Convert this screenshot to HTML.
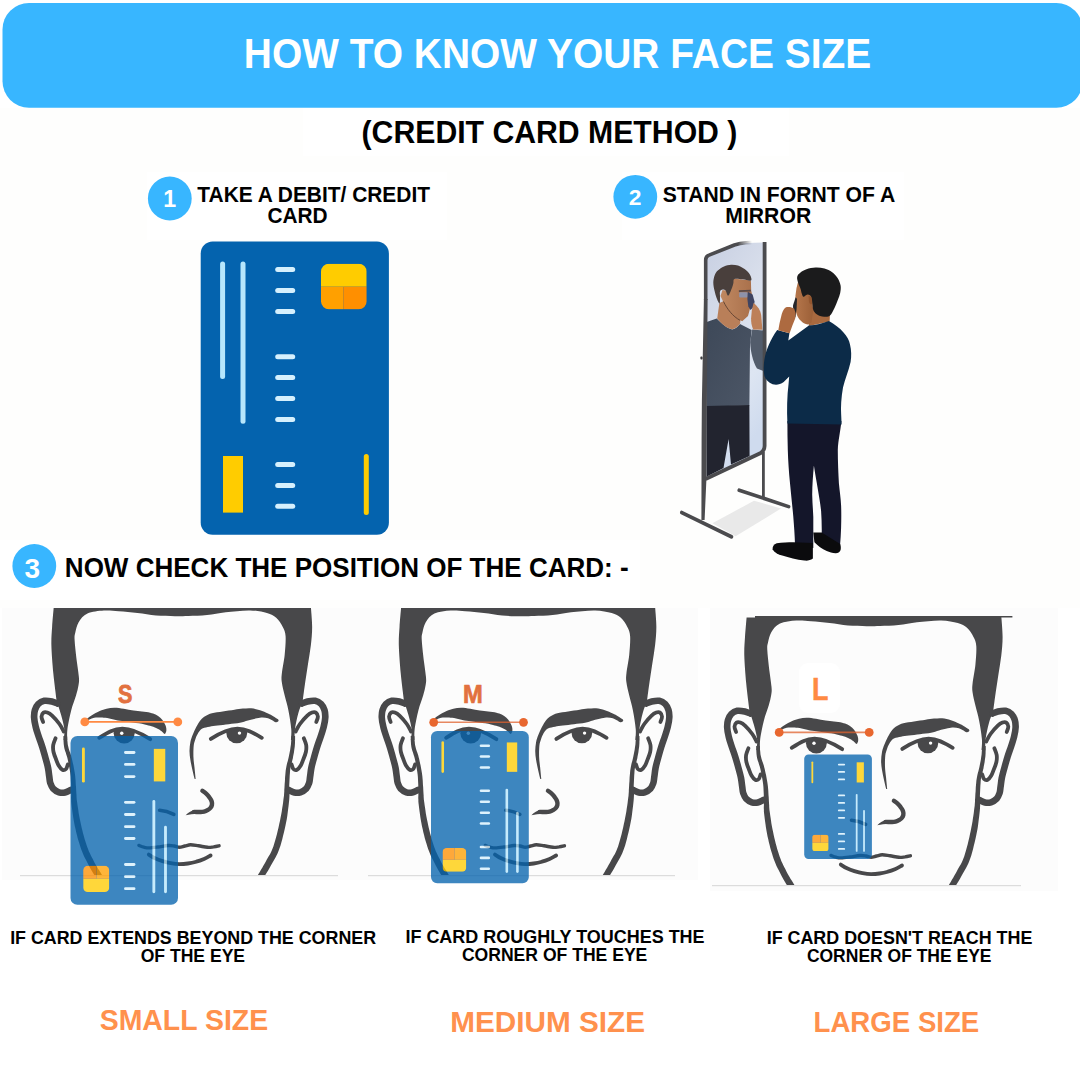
<!DOCTYPE html>
<html lang="en">
<head>
<meta charset="utf-8">
<title>How to know your face size</title>
<style>
html,body{margin:0;padding:0;background:#fff;}
body{width:1080px;height:1080px;position:relative;overflow:hidden;font-family:"Liberation Sans",sans-serif;}
svg{position:absolute;left:0;top:0;width:1080px;height:1080px;display:block;}
text{font-family:"Liberation Sans",sans-serif;font-weight:700;}
.k{fill:#000;}
.w{fill:#fff;}
.o{fill:#ff914d;}
</style>
</head>
<body>
<svg viewBox="0 0 1080 1080" width="1080" height="1080">
<!-- subtle paper background patches -->
<rect x="0" y="108" width="1080" height="500" fill="#fefefd"/>
<rect x="303" y="108" width="486" height="48" fill="#ffffff"/>
<rect x="147" y="172" width="300" height="68" fill="#ffffff"/>
<rect x="622" y="172" width="282" height="68" fill="#ffffff"/>
<rect x="0" y="540" width="640" height="60" fill="#ffffff"/>
<!-- header -->
<rect x="2.5" y="3" width="1080.3" height="104.7" rx="26.5" ry="26.5" fill="#38b6ff"/>
<text class="w" x="243.81" y="68.2" font-size="42.0" textLength="627.44" lengthAdjust="spacingAndGlyphs">HOW TO KNOW YOUR FACE SIZE</text>
<text class="k" x="361.56" y="142.5" font-size="30.8" textLength="375.84" lengthAdjust="spacingAndGlyphs">(CREDIT CARD METHOD )</text>
<text class="k" x="197.32" y="201.7" font-size="21.8" textLength="232.66" lengthAdjust="spacingAndGlyphs">TAKE A DEBIT/ CREDIT</text>
<text class="k" x="267.38" y="223.0" font-size="21.5" textLength="60.17" lengthAdjust="spacingAndGlyphs">CARD</text>
<text class="k" x="662.76" y="201.7" font-size="21.8" textLength="232.39" lengthAdjust="spacingAndGlyphs">STAND IN FORNT OF A</text>
<text class="k" x="725.26" y="223.0" font-size="21.5" textLength="85.95" lengthAdjust="spacingAndGlyphs">MIRROR</text>
<text class="k" x="64.85" y="576.8" font-size="27.0" textLength="563.76" lengthAdjust="spacingAndGlyphs">NOW CHECK THE POSITION OF THE CARD: -</text>
<text class="k" x="10.13" y="943.8" font-size="18.2" textLength="365.95" lengthAdjust="spacingAndGlyphs">IF CARD EXTENDS BEYOND THE CORNER</text>
<text class="k" x="140.71" y="961.7" font-size="18.0" textLength="104.37" lengthAdjust="spacingAndGlyphs">OF THE EYE</text>
<text class="k" x="405.45" y="942.8" font-size="18.0" textLength="299.13" lengthAdjust="spacingAndGlyphs">IF CARD ROUGHLY TOUCHES THE</text>
<text class="k" x="461.89" y="960.8" font-size="18.0" textLength="185.47" lengthAdjust="spacingAndGlyphs">CORNER OF THE EYE</text>
<text class="k" x="766.66" y="943.8" font-size="18.2" textLength="265.68" lengthAdjust="spacingAndGlyphs">IF CARD DOESN'T REACH THE</text>
<text class="k" x="806.90" y="961.7" font-size="18.0" textLength="184.64" lengthAdjust="spacingAndGlyphs">CORNER OF THE EYE</text>
<text class="o" x="99.69" y="1030.0" font-size="29.7" textLength="168.44" lengthAdjust="spacingAndGlyphs">SMALL SIZE</text>
<text class="o" x="450.19" y="1031.8" font-size="29.8" textLength="194.77" lengthAdjust="spacingAndGlyphs">MEDIUM SIZE</text>
<text class="o" x="813.57" y="1031.8" font-size="29.8" textLength="165.69" lengthAdjust="spacingAndGlyphs">LARGE SIZE</text>
<circle cx="169.8" cy="198.5" r="21.9" fill="#38b6ff"/>
<text class="w" x="169.6" y="207" font-size="23.2" text-anchor="middle">1</text>
<circle cx="635.3" cy="196.8" r="21.9" fill="#38b6ff"/>
<text class="w" x="635.1" y="205" font-size="22.8" text-anchor="middle">2</text>
<circle cx="34.3" cy="566" r="21.9" fill="#38b6ff"/>
<text class="w" x="32.2" y="577.5" font-size="28" text-anchor="middle">3</text>
<!-- main credit card -->
<g id="maincard">
<rect x="200.7" y="241.5" width="188.2" height="293.3" rx="12" fill="#0463ae"/>
<rect x="220.1" y="261.5" width="5" height="117.5" rx="2.5" fill="#b6e6fc"/>
<rect x="240.5" y="261.5" width="5" height="162.2" rx="2.5" fill="#b6e6fc"/>
<g fill="#d6f0fd">
<rect x="275.2" y="267.1" width="20" height="5" rx="2.5"/>
<rect x="275.2" y="287.9" width="20" height="5" rx="2.5"/>
<rect x="275.2" y="309" width="20" height="5" rx="2.5"/>
<rect x="275.2" y="354.2" width="20" height="5" rx="2.5"/>
<rect x="275.2" y="374.9" width="20" height="5" rx="2.5"/>
<rect x="275.2" y="396" width="20" height="5" rx="2.5"/>
<rect x="275.2" y="417.1" width="20" height="5" rx="2.5"/>
<rect x="275.2" y="461.9" width="20" height="5" rx="2.5"/>
<rect x="275.2" y="483.1" width="20" height="5" rx="2.5"/>
<rect x="275.2" y="503.8" width="20" height="5" rx="2.5"/>
</g>
<clipPath id="chipclip"><rect x="321" y="263.7" width="45.7" height="45.6" rx="8"/></clipPath>
<g clip-path="url(#chipclip)">
<rect x="321" y="263.7" width="45.7" height="23" fill="#ffcc00"/>
<rect x="321" y="286.7" width="22.3" height="23" fill="#ffa000"/>
<rect x="343.3" y="286.7" width="23.5" height="23" fill="#ff8f00"/>
</g>
<rect x="223" y="456" width="20" height="56.6" fill="#ffcc00"/>
<rect x="363.8" y="454" width="5" height="61" rx="2.5" fill="#ffcc00"/>
</g>
<g id="mirrorscene">
<defs>
<linearGradient id="glass" x1="0" y1="0" x2="0.35" y2="1"><stop offset="0" stop-color="#c7cfe2"/><stop offset="0.4" stop-color="#d8deeb"/><stop offset="0.75" stop-color="#dde5f2"/><stop offset="1" stop-color="#cfdbee"/></linearGradient>
<linearGradient id="rsw" x1="0" y1="0" x2="1" y2="1"><stop offset="0" stop-color="#3d4858"/><stop offset="1" stop-color="#4c5666"/></linearGradient>
<linearGradient id="skin1" x1="0" y1="0" x2="1" y2="0"><stop offset="0" stop-color="#c08861"/><stop offset="1" stop-color="#a9704b"/></linearGradient>
<linearGradient id="skin2" x1="0" y1="0" x2="1" y2="0"><stop offset="0" stop-color="#b5764b"/><stop offset="1" stop-color="#9c6038"/></linearGradient>
<clipPath id="glassclip"><path d="M706.5 259.5 Q706.6 256.8 709 255.8 L738 245.2 Q742 243.6 747 243 L763.5 242.4 L763.5 446 Q763.3 450.6 759.5 452.6 L706.5 477.5 Z"/></clipPath>
</defs>
<polygon points="712.4,523.3 754,500.7 781,508.5 735.6,536.3" fill="#e9e9e9"/>
<path d="M706.5 259.5 Q706.6 256.8 709 255.8 L738 245.2 Q742 243.6 747 243 L763.5 242.4 L763.5 446 Q763.3 450.6 759.5 452.6 L706.5 477.5 Z" fill="url(#glass)"/>
<g clip-path="url(#glassclip)">
<path d="M704 323 L716.7 318.6 C722 324 727 328.5 732.2 329.4 C735.5 328.6 738 326.4 740 323.9 L751.7 330 L750 345 L749.4 405.5 L704 406.5 Z" fill="url(#rsw)"/>
<path d="M752.2 329.6 L763.2 330.6 L766 372 L757 368.5 C753 362 750.5 352 750.2 342 Z" fill="#525c6b"/>
<path d="M704 406 L749.4 405 L749.6 456 L731 464.6 L728.6 439 L723.5 468 L704 478 Z" fill="#22242f"/>
<path d="M719.4 303 L717.2 318.4 C722 324 727 328.3 732.2 329.2 C735.5 328.4 738 326.2 740 323.7 L741 316 L726 300 Z" fill="#b97f59"/>
<path d="M733.5 278.5 L750.9 280.6 L751.2 290.6 L752.6 297.4 L750.5 300.5 L750.2 308 L748 316 L742.2 321.2 C736 318.5 729 311 724.5 304.5 L720.5 296 L722.5 290 L728.5 291 Z" fill="url(#skin1)"/>
<path d="M723.5 301.5 C727 309 733 316.5 740 320.3" fill="none" stroke="#5d3f30" stroke-width="0.9"/>
<path d="M713.3 282.8C713.3 280.2 713.9 277.5 714.6 275.5C715.4 273.5 716.2 272.1 717.8 270.6C719.4 269.1 721.8 267.5 724.0 266.5C726.2 265.5 728.8 264.9 731.1 264.8C733.4 264.7 736.0 265.0 738.0 265.6C740.0 266.2 741.6 267.2 743.3 268.3C745.0 269.4 746.8 270.7 748.0 272.0C749.2 273.3 750.1 274.7 750.6 276.1C751.1 277.5 752.2 280.1 750.9 280.6C749.5 281.1 745.2 279.5 742.5 279.2C739.8 278.9 735.9 278.3 734.4 278.9C732.9 279.5 733.8 281.6 733.4 283.0C733.0 284.4 733.1 285.1 732.2 287.2C731.4 289.3 729.4 295.0 728.3 295.6C727.2 296.2 726.5 291.6 725.6 290.6C724.7 289.6 723.5 289.5 722.6 289.6C721.7 289.7 720.4 290.2 720.0 291.4C719.6 292.6 720.1 295.0 720.0 297.0C719.9 299.0 720.2 303.3 719.6 303.5C719.0 303.7 717.4 300.1 716.6 298.0C715.8 295.9 715.2 293.5 714.6 291.0C714.0 288.5 713.3 285.4 713.3 282.8Z" fill="#493f3c"/>
<path d="M738.9 290.2 L750.8 289.8 L750.8 291.6 L738.9 292 Z" fill="#5a4a48"/>
<rect x="739.2" y="292.2" width="8.6" height="5.2" rx="1.2" fill="#8e92aa"/>
<path d="M747.8 291.7 L752.6 294.5 L754.6 301.7 L753.5 307 L750.6 310 L748.3 306.5 L747.4 299 Z" fill="#3e4462"/>
<path d="M753.6 302.8 C757.5 306 760.5 310.5 761.2 315 L762.4 329.8 L753.2 329.6 C751.6 326 750.9 322 751.1 318.3 L751.8 310.6 Z" fill="#bd8059"/>
</g>
<linearGradient id="fade" gradientUnits="userSpaceOnUse" x1="738" y1="0" x2="752" y2="0"><stop offset="0" stop-color="#4b4b4e"/><stop offset="1" stop-color="#4b4b4e" stop-opacity="0"/></linearGradient>
<path d="M705.7 300 L705.7 260 Q705.7 256.3 709 255.1 L734.4 245 Q740 243.2 746 242.8 L752 242.6" fill="none" stroke="url(#fade)" stroke-width="3.6" stroke-linejoin="round"/>
<path d="M703.9 299 L707.6 299 L706.9 400 L706.4 479.5 L704.6 520 L701.4 520 L701.6 440 L701.9 400 Z" fill="#4b4b4e"/>
<path d="M764.6 241.9 L764.6 446 Q764.4 451 760.2 453.2 L705.6 479" fill="none" stroke="#4b4b4e" stroke-width="3.8" stroke-linejoin="round"/>
<path d="M763.4 452 L763.4 497" fill="none" stroke="#4b4b4e" stroke-width="2.8"/>
<path d="M739.2 490.2 L788.6 506.6" fill="none" stroke="#4b4b4e" stroke-width="3.6" stroke-linecap="round"/>
<path d="M681.8 512.6 L731.4 536.8" fill="none" stroke="#4b4b4e" stroke-width="3.8" stroke-linecap="round"/>
<path d="M787.4 421 L841.4 421 C840.4 432 838.2 440 837.8 450 C837.8 462 838.4 473 838.9 483.3 C839.6 491 840.8 498 841.1 505.6 C841.4 513 841.3 520 841.1 527.8 C840.9 534 840.5 540 840 546 L821.7 535 C821.9 527 821.6 519 821.1 511.1 C820.4 503.5 819 496 817.8 488.9 C816.4 481 815 473 813.9 465.6 C813 475 812.3 485 812.2 494.4 C812.3 502 813 509.5 813.3 516.7 L813.3 548 L795 545 C794.8 535.5 794 526 793.3 516.7 C792.3 505.5 791 494.5 790 483.3 C788.9 472 788.1 461 787.8 450 C787.5 440 787.4 430.5 787.4 421 Z" fill="#14162a"/>
<path d="M772.6 549.5 C772.4 546.5 774 544.3 776.7 543.3 C782 542.3 788 542.2 793.3 542.2 L812.9 543 L812.9 558.6 C810.5 560.4 807.5 560.9 804.4 560.6 C796.5 559.8 789 557.8 782.2 555.6 C778.5 554.4 774.8 553 772.6 549.5 Z" fill="#0b0b0d"/>
<path d="M813.3 532.6 L821.7 532.6 L840.2 544 C840.9 546 841 548.2 840.6 550 C839.6 552.4 837.8 553.4 835.6 553.3 C832.4 553.2 829.4 552.3 826.7 551.1 C822 548.8 817.8 545.8 814.4 542.2 Z" fill="#0b0b0d"/>
<path d="M806 305 L830 314 L829.6 321.5 L808.9 326 Z" fill="#a8693f"/>
<path d="M798 282 L803 289 L812.5 296 L813 312 L811.5 322.5 L807.8 324.6 C805 324.4 802.6 322.8 801.1 321.1 C798.5 318.5 796.8 315.5 796.1 312.2 L795.4 296 L796.5 288 Z" fill="url(#skin2)"/>
<path d="M808.6 296 C811 296 812.6 299 812.4 303.2 C811.5 305 810 304.5 809 302 Z" fill="#93562f"/>
<path d="M797.2 276.7C797.6 274.9 799.0 273.7 800.5 272.5C802.0 271.3 804.0 270.1 806.5 269.3C809.0 268.5 812.6 267.7 815.6 267.6C818.6 267.5 821.7 267.8 824.5 268.6C827.3 269.4 830.0 270.6 832.2 272.2C834.4 273.8 836.2 275.8 837.6 278.0C839.0 280.2 840.2 283.1 840.6 285.6C841.0 288.1 840.7 290.6 840.2 293.0C839.7 295.4 838.8 297.5 837.8 300.0C836.8 302.5 835.8 305.4 834.5 308.0C833.2 310.6 831.6 314.1 830.0 315.6C828.4 317.1 826.7 316.7 825.0 316.8C823.3 316.9 821.5 316.6 820.0 316.1C818.5 315.6 817.1 314.8 816.0 313.8C814.9 312.8 813.9 311.6 813.3 310.0C812.7 308.4 812.7 306.0 812.4 304.0C812.1 302.0 812.1 299.3 811.7 297.8C811.3 296.3 810.6 295.8 810.0 295.2C809.4 294.6 808.5 294.4 807.8 294.4C807.1 294.4 806.4 295.0 805.6 295.4C804.9 295.8 804.0 297.1 803.3 296.7C802.6 296.3 802.0 294.3 801.6 293.0C801.2 291.7 801.2 290.6 800.6 288.9C800.0 287.2 798.8 285.0 798.2 283.0C797.6 281.0 796.8 278.4 797.2 276.7Z" fill="#1b1b1c"/>
<path d="M808.9 325.6 C816 325.2 823 323.4 828.9 321.1 C834.5 324.2 839.5 328 843.3 332.2 C847 336 849.2 340 850 344.4 C851.4 350 851.6 356 850.6 362 C848.5 371 845 379.5 843 387.4 C841.3 397 840.6 407 841.2 415.2 L841.6 424.4 L787.4 423.6 C786.8 410 787 396 788.6 383.5 L789.2 376.5 L783.7 382 C780 384.8 776 385.2 772.6 384.2 C768.5 382.6 765.5 379.5 764.4 376 C763.3 370.5 763.6 365 764.4 359.6 C766 350 770.5 339.5 777.2 330 L789.4 333.3 L788.3 340.6 Z" fill="#0c2b48"/>
<path d="M795.6 297.2 L797 298.8 L796.6 309 L795.4 317.4 L793.6 316.6 L793 305.6 Z" fill="#26262a"/>
<path d="M785.6 307.4 C788.5 306.6 792 307.2 794.2 308.8 L795.6 313 L795.2 318.5 L792.4 325.5 L789.6 333.2 L778.3 330.2 C779 325.5 780 321 781.1 316.7 C782 312.5 783.3 309 785.6 307.4 Z" fill="#ad6a40"/>
<rect x="700.4" y="356.6" width="2.2" height="3" rx="0.8" fill="#3e3e40"/>
</g>
<defs>
<g id="face">
<path d="M746.6 617.4C748.0 617.4 753.6 617.4 755.0 617.4L755.0 616.0C796.0 616.0 960.2 616.0 1001.3 616.0L1001.3 616.0C1001.5 619.5 1002.6 630.4 1002.6 637.0C1002.6 643.6 1002.0 649.4 1001.3 655.6C1000.6 661.8 999.4 667.8 998.5 674.0C997.6 680.2 996.6 686.5 995.7 692.6C994.8 698.7 993.7 707.6 993.3 710.6L993.3 710.6C992.6 712.7 990.2 718.6 988.9 723.3C987.6 728.0 986.2 734.4 985.6 738.9C985.0 743.4 985.3 748.1 985.3 750.0L981.6 750.0C981.6 748.1 982.3 743.8 981.9 738.9C981.5 734.0 980.2 725.9 979.1 720.4C978.0 714.9 976.5 710.2 975.4 705.6C974.3 701.0 973.1 696.3 972.6 692.6C972.1 688.9 972.1 687.9 972.6 683.3C973.1 678.7 974.8 671.0 975.4 664.8C976.0 658.6 976.6 650.9 976.3 646.3C976.0 641.7 975.0 640.1 973.5 637.0C972.0 633.9 969.6 630.1 967.0 627.8C964.4 625.5 962.1 624.3 957.8 623.1C953.5 621.9 947.9 620.5 941.1 620.4C934.3 620.2 924.1 621.4 917.0 622.2C909.9 623.0 904.7 624.4 898.5 625.0C892.3 625.6 885.3 625.8 880.0 626.0C874.7 626.2 872.0 626.4 866.7 626.3C861.4 626.2 854.2 626.1 848.0 625.6C841.8 625.1 835.8 623.8 829.6 623.1C823.4 622.4 816.5 621.7 811.0 621.3C805.5 620.9 801.5 620.2 796.3 620.6C791.1 621.0 784.2 621.6 780.0 623.5C775.8 625.4 773.3 629.0 771.3 632.2C769.3 635.5 768.6 640.0 767.9 643.0C767.2 646.0 767.1 646.0 767.3 650.0C767.5 654.0 768.2 660.6 768.9 666.7C769.6 672.8 771.1 682.0 771.5 686.7C771.9 691.4 771.7 691.9 771.2 695.0C770.7 698.1 769.9 701.4 768.7 705.6C767.5 709.8 765.3 714.9 763.9 720.4C762.5 725.9 760.9 734.0 760.2 738.9C759.6 743.8 760.0 748.1 760.0 750.0L756.3 750.0C756.4 748.3 757.5 743.9 757.2 740.0C756.9 736.1 755.7 731.6 754.4 726.7C753.1 721.8 750.2 713.3 749.4 710.6L749.4 710.6C748.9 706.0 747.1 692.5 746.2 683.3C745.4 674.1 744.5 663.3 744.3 655.6C744.1 647.9 744.6 643.4 745.0 637.0C745.4 630.6 746.3 620.7 746.6 617.4Z" fill="#48484a"/>
<rect x="1000" y="616" width="12.4" height="1.5" fill="#48484a"/>
<path d="M756.2 746.1L756.2 746.9L756.3 748.0L756.3 749.3L756.3 750.8L756.4 752.3L756.5 753.9L756.7 755.5L756.9 757.1L757.2 758.5L757.6 759.9L758.0 761.2L758.5 762.5L758.9 763.9L759.3 765.2L759.8 766.7L760.2 768.3L760.6 770.1L761.0 772.0L761.4 774.1L761.8 776.2L762.2 778.3L762.6 780.5L762.9 782.6L763.2 784.7L763.4 786.7L763.5 788.8L763.6 791.0L763.7 793.1L763.8 795.3L763.8 797.3L763.8 799.3L763.9 801.2L763.9 802.9L763.9 804.3L763.9 805.6L763.8 806.9L763.8 808.3L763.9 809.8L763.9 811.6L764.1 813.6L764.4 816.0L764.7 818.6L765.1 821.4L765.5 824.3L765.9 827.3L766.4 830.3L767.0 833.4L767.5 836.3L768.2 839.1L768.8 842.0L769.6 845.0L770.3 847.9L771.1 850.8L772.0 853.6L772.8 856.3L773.7 858.9L774.6 861.3L775.6 863.7L776.5 865.9L777.5 868.0L778.6 870.1L779.6 872.1L780.6 874.0L781.6 875.9L782.7 877.9L783.8 879.9L785.0 882.0L786.2 883.9L787.3 885.7L788.3 887.3L789.1 888.7L789.8 889.7L795.2 886.3L794.6 885.3L793.8 883.9L792.8 882.3L791.7 880.6L790.5 878.7L789.4 876.7L788.2 874.8L787.2 872.9L786.2 871.0L785.3 869.1L784.3 867.2L783.3 865.3L782.4 863.2L781.4 861.2L780.6 859.0L779.7 856.7L778.9 854.3L778.1 851.7L777.2 849.0L776.5 846.2L775.7 843.4L775.0 840.5L774.3 837.7L773.7 834.9L773.1 832.1L772.5 829.2L771.9 826.3L771.4 823.4L771.0 820.5L770.6 817.8L770.2 815.2L769.9 813.0L769.6 811.0L769.4 809.5L769.3 808.1L769.2 806.8L769.2 805.5L769.1 804.2L769.0 802.7L768.9 801.0L768.8 799.1L768.7 797.1L768.5 795.1L768.4 792.9L768.3 790.7L768.1 788.5L767.9 786.3L767.6 784.1L767.3 782.0L766.9 779.7L766.5 777.5L766.1 775.3L765.6 773.2L765.1 771.1L764.7 769.1L764.2 767.3L763.8 765.6L763.3 764.0L762.8 762.6L762.3 761.2L761.9 760.0L761.5 758.7L761.2 757.5L760.9 756.3L760.6 755.0L760.4 753.5L760.3 752.0L760.1 750.5L760.0 749.1L760.0 747.8L759.9 746.7L759.8 745.9Z" fill="#48484a"/>
<path d="M982.1 745.9L982.0 746.7L982.0 747.7L981.9 748.9L981.9 750.2L981.8 751.6L981.7 753.0L981.6 754.4L981.4 755.8L981.2 757.1L981.0 758.5L980.8 760.0L980.5 761.5L980.2 763.0L979.9 764.5L979.6 765.9L979.3 767.4L979.0 768.7L978.7 770.0L978.4 771.2L978.0 772.5L977.6 773.9L977.3 775.4L977.0 777.0L976.7 778.7L976.4 780.6L976.2 782.7L976.0 784.9L975.8 787.1L975.7 789.3L975.6 791.5L975.4 793.6L975.3 795.5L975.2 797.2L975.1 798.7L975.0 800.1L975.0 801.4L974.9 802.7L974.8 804.1L974.7 805.7L974.4 807.7L974.1 810.1L973.8 812.7L973.4 815.5L972.9 818.5L972.5 821.6L971.9 824.7L971.3 827.8L970.7 830.9L970.0 834.0L969.3 837.4L968.5 840.8L967.7 844.2L966.8 847.6L965.9 850.8L965.0 853.8L964.2 856.5L963.3 858.8L962.5 860.8L961.6 862.7L960.7 864.4L959.7 866.1L958.7 867.8L957.7 869.6L956.7 871.5L955.6 873.4L954.4 875.5L953.2 877.7L951.9 879.8L950.7 881.9L949.6 883.7L948.7 885.2L948.0 886.4L953.6 889.6L954.2 888.5L955.1 887.0L956.2 885.1L957.4 883.1L958.7 880.9L960.0 878.7L961.2 876.6L962.3 874.5L963.3 872.7L964.3 871.0L965.3 869.3L966.3 867.5L967.3 865.5L968.3 863.4L969.3 861.1L970.2 858.5L971.2 855.7L972.1 852.6L973.0 849.2L973.8 845.8L974.7 842.3L975.5 838.8L976.2 835.4L976.9 832.1L977.5 828.9L978.0 825.7L978.4 822.5L978.8 819.3L979.2 816.3L979.5 813.4L979.8 810.7L980.0 808.3L980.1 806.2L980.2 804.3L980.1 802.8L980.1 801.4L980.0 800.0L979.9 798.7L979.9 797.3L979.9 795.7L980.0 793.8L980.1 791.7L980.2 789.6L980.3 787.4L980.4 785.2L980.6 783.1L980.7 781.1L980.9 779.3L981.2 777.7L981.5 776.3L981.8 774.9L982.1 773.7L982.5 772.4L982.8 771.1L983.1 769.7L983.5 768.2L983.7 766.7L984.0 765.2L984.3 763.7L984.6 762.2L984.8 760.6L985.0 759.1L985.2 757.7L985.4 756.2L985.5 754.8L985.6 753.3L985.6 751.8L985.7 750.3L985.7 749.0L985.7 747.8L985.7 746.8L985.7 746.1Z" fill="#48484a"/>
<path d="M992.5 713.5C993.4 713.2 995.8 712.0 998.0 711.5C1000.2 711.0 1003.4 710.4 1005.6 710.8C1007.9 711.2 1010.0 712.5 1011.5 714.0C1013.0 715.5 1014.1 717.8 1014.8 720.0C1015.5 722.2 1015.7 724.7 1015.6 727.5C1015.5 730.3 1014.8 733.8 1014.0 737.0C1013.2 740.2 1012.2 743.2 1011.1 746.5C1010.0 749.8 1008.6 753.5 1007.5 757.0C1006.4 760.5 1005.4 764.3 1004.4 767.8C1003.4 771.3 1002.4 774.9 1001.8 778.0C1001.2 781.1 1001.0 784.0 1000.6 786.5C1000.2 789.0 1000.3 791.0 999.6 793.0C998.9 795.0 998.0 797.2 996.6 798.8C995.2 800.3 992.9 801.7 991.0 802.3C989.1 802.9 986.9 802.9 985.0 802.5C983.1 802.1 980.4 800.4 979.5 800.0" fill="none" stroke="#48484a" stroke-width="6.6" stroke-linecap="round" stroke-linejoin="round"/>
<path d="M986.3 741.5C987.0 740.2 988.6 736.6 990.5 734.0C992.4 731.4 995.8 727.5 997.8 725.6C999.8 723.7 1001.1 723.0 1002.5 722.5C1003.9 722.0 1005.3 721.9 1006.3 722.6C1007.3 723.3 1008.2 725.1 1008.3 726.7C1008.4 728.3 1007.0 731.1 1006.7 732.0" fill="none" stroke="#48484a" stroke-width="3.8" stroke-linecap="round" stroke-linejoin="round"/>
<path d="M994.4 748.3C994.8 749.4 996.4 752.7 996.7 755.0C997.0 757.3 996.9 759.7 996.4 762.0C995.9 764.3 994.9 766.8 994.0 769.0C993.1 771.2 992.4 773.7 991.3 775.5C990.2 777.3 988.8 779.2 987.6 779.8C986.4 780.4 984.9 779.9 984.0 779.0C983.1 778.1 982.5 775.2 982.2 774.4" fill="none" stroke="#48484a" stroke-width="3.8" stroke-linecap="round" stroke-linejoin="round"/>
<path d="M750.3 713.5C749.4 713.2 747.0 712.0 744.8 711.5C742.6 711.0 739.4 710.4 737.2 710.8C734.9 711.2 732.8 712.5 731.3 714.0C729.8 715.5 728.7 717.8 728.0 720.0C727.3 722.2 727.1 724.7 727.2 727.5C727.3 730.3 728.0 733.8 728.8 737.0C729.5 740.2 730.6 743.2 731.7 746.5C732.8 749.8 734.2 753.5 735.3 757.0C736.4 760.5 737.4 764.3 738.4 767.8C739.4 771.3 740.4 774.9 741.0 778.0C741.6 781.1 741.8 784.0 742.2 786.5C742.6 789.0 742.5 791.0 743.2 793.0C743.9 795.0 744.8 797.2 746.2 798.8C747.6 800.3 749.9 801.7 751.8 802.3C753.7 802.9 755.9 802.9 757.8 802.5C759.7 802.1 762.4 800.4 763.3 800.0" fill="none" stroke="#48484a" stroke-width="6.6" stroke-linecap="round" stroke-linejoin="round"/>
<path d="M756.5 741.5C755.8 740.2 754.2 736.6 752.3 734.0C750.4 731.4 747.0 727.5 745.0 725.6C743.0 723.7 741.7 723.0 740.3 722.5C738.9 722.0 737.5 721.9 736.5 722.6C735.5 723.3 734.6 725.1 734.5 726.7C734.4 728.3 735.8 731.1 736.1 732.0" fill="none" stroke="#48484a" stroke-width="3.8" stroke-linecap="round" stroke-linejoin="round"/>
<path d="M748.4 748.3C748.0 749.4 746.4 752.7 746.1 755.0C745.8 757.3 745.9 759.7 746.4 762.0C746.9 764.3 747.9 766.8 748.8 769.0C749.6 771.2 750.4 773.7 751.5 775.5C752.6 777.3 754.0 779.2 755.2 779.8C756.4 780.4 757.9 779.9 758.8 779.0C759.7 778.1 760.3 775.2 760.6 774.4" fill="none" stroke="#48484a" stroke-width="3.8" stroke-linecap="round" stroke-linejoin="round"/>
<path d="M968.8 729.2C968.0 728.7 965.6 727.1 964.0 726.2C962.4 725.3 961.1 724.6 958.9 723.6C956.7 722.6 953.8 721.2 951.0 720.3C948.2 719.4 945.0 718.6 942.2 718.3C939.4 718.0 936.8 718.4 934.0 718.6C931.2 718.9 928.9 719.3 925.6 719.8C922.3 720.3 917.7 721.0 914.0 721.6C910.3 722.2 906.1 722.6 903.3 723.3C900.5 724.0 898.9 724.9 897.0 726.0C895.1 727.1 893.7 728.2 892.2 730.0C890.7 731.8 889.1 734.6 887.8 737.0C886.5 739.4 885.4 741.9 884.4 744.4C883.4 746.9 882.5 749.2 882.0 752.0C881.5 754.8 881.1 758.0 881.1 761.0C881.1 764.0 881.5 766.8 882.0 770.0C882.5 773.2 883.3 776.8 884.0 780.0C884.7 783.2 885.8 787.5 886.2 789.0L887.2 789.0C887.0 787.0 886.4 780.7 886.0 777.0C885.6 773.3 885.1 770.3 885.0 766.7C884.9 763.1 885.0 758.6 885.3 755.6C885.6 752.6 886.4 750.9 887.0 749.0C887.6 747.1 888.1 745.8 888.9 744.4C889.6 743.0 890.6 741.5 891.5 740.5C892.4 739.5 892.8 738.9 894.4 738.3C896.0 737.7 898.6 737.2 901.0 736.8C903.4 736.3 905.7 736.0 908.9 735.6C912.1 735.2 916.3 734.7 920.0 734.2C923.7 733.7 927.9 733.4 931.1 732.8C934.3 732.2 936.2 731.1 939.0 730.4C941.8 729.6 945.4 728.8 947.8 728.3C950.2 727.8 951.6 727.6 953.5 727.6C955.4 727.6 957.3 727.9 958.9 728.3C960.5 728.7 961.7 729.6 963.0 730.2C964.3 730.9 965.5 732.0 966.5 732.2C967.5 732.4 968.3 731.9 968.8 731.6C969.3 731.3 969.3 730.4 969.4 730.2Z" fill="#48484a"/>
<path d="M777.5 730.5C778.6 729.7 781.5 727.1 784.0 725.5C786.5 723.9 789.7 722.2 792.2 721.1C794.7 720.0 796.6 719.3 799.0 718.8C801.4 718.2 803.9 717.8 806.7 717.8C809.5 717.8 812.9 718.3 816.0 718.8C819.1 719.3 822.6 720.1 825.6 720.6C828.6 721.1 831.2 721.2 834.0 721.6C836.8 722.0 840.0 722.3 842.2 722.8C844.5 723.3 845.8 723.8 847.5 724.6C849.2 725.4 850.9 726.6 852.2 727.8C853.6 729.0 854.7 730.5 855.6 732.0C856.5 733.5 857.4 735.3 857.8 736.7C858.2 738.1 858.3 739.4 858.2 740.5C858.1 741.6 857.4 743.1 857.2 743.6L856.2 743.9C855.8 743.5 854.5 742.0 853.5 741.2C852.5 740.4 851.7 739.7 850.0 738.9C848.3 738.1 845.7 737.0 843.5 736.3C841.3 735.5 839.8 735.0 836.7 734.4C833.6 733.8 828.7 733.1 825.0 732.6C821.3 732.1 817.6 731.6 814.4 731.1C811.2 730.6 808.8 730.0 806.0 729.4C803.2 728.8 800.1 728.1 797.8 727.8C795.5 727.5 793.9 727.5 792.0 727.5C790.1 727.5 788.4 727.4 786.7 727.8C785.0 728.1 783.5 728.9 782.0 729.6C780.5 730.3 778.2 731.4 777.5 731.8Z" fill="#48484a"/>
<clipPath id="eyeL"><path d="M790 749.5 C800 741 806 738.2 814.6 738.2 C824 738.2 832 741.5 844 750.5 L844 760 L790 760Z"/></clipPath>
<circle cx="816.4" cy="743.2" r="10.4" fill="#48484a" clip-path="url(#eyeL)"/>
<path d="M791.7 747.8 C800 742.5 806 738.6 814.6 738.6 C824 738.6 832 742.5 842.2 749.2" fill="none" stroke="#48484a" stroke-width="3.8" stroke-linecap="round"/>
<circle cx="814" cy="743.3" r="1.7" fill="#fff"/>
<clipPath id="eyeR"><path d="M900 750.5 C912 741.5 920 738.2 928.6 738.2 C937 738.2 944 741 954 749.5 L954 760 L900 760Z"/></clipPath>
<circle cx="927.9" cy="742.8" r="10.4" fill="#48484a" clip-path="url(#eyeR)"/>
<path d="M902.3 748.9 C912 742.5 920 738.6 928.6 738.6 C937 738.6 944 742.5 952.7 747.8" fill="none" stroke="#48484a" stroke-width="3.8" stroke-linecap="round"/>
<circle cx="930.6" cy="743.1" r="1.7" fill="#fff"/>
<path d="M893.9 800.8C894.6 801.3 896.8 802.8 898.0 804.0C899.2 805.2 900.2 806.5 901.1 807.8C902.0 809.0 902.7 810.3 903.1 811.5C903.5 812.7 903.5 813.9 903.3 815.0C903.1 816.1 902.5 817.1 901.8 818.0C901.1 818.9 899.9 819.6 898.9 820.2C897.9 820.8 896.6 821.3 895.5 821.6C894.4 821.9 893.9 822.0 892.2 822.0C890.6 822.0 886.7 821.9 885.6 821.9" fill="none" stroke="#48484a" stroke-width="4.4" stroke-linecap="round" stroke-linejoin="round"/>
<path d="M887 820 C883 820.3 880 822.5 877.3 825.3 C881 824.6 885 824 889 823.8Z" fill="#48484a"/>
<path d="M851.5 820.2 C856 820.5 861 822 865.6 824.4" fill="none" stroke="#48484a" stroke-width="3.6" stroke-linecap="round"/>
<path d="M831.0 855.4C831.8 855.7 834.3 856.8 836.0 857.2C837.7 857.6 838.8 857.9 841.1 857.9C843.4 857.9 846.9 857.4 850.0 857.0C853.1 856.6 857.3 855.7 860.0 855.5C862.7 855.3 864.1 855.7 866.0 856.0C867.9 856.3 869.4 857.2 871.1 857.2C872.9 857.2 874.6 856.4 876.5 856.0C878.4 855.6 880.0 854.8 882.2 854.8C884.5 854.8 887.2 855.4 890.0 855.8C892.8 856.2 896.4 857.1 898.9 857.3C901.4 857.5 903.1 857.1 905.0 856.9C906.9 856.6 909.5 856.0 910.4 855.8" fill="none" stroke="#48484a" stroke-width="3.4" stroke-linecap="round" stroke-linejoin="round"/>
<path d="M840.8 864.6C841.8 865.2 844.7 867.2 847.0 868.3C849.3 869.4 851.8 870.3 854.4 871.1C857.0 871.9 859.7 872.7 862.5 873.2C865.3 873.7 868.3 874.1 871.1 874.1C873.9 874.1 876.7 873.9 879.5 873.5C882.3 873.1 885.1 872.5 887.8 871.7C890.5 871.0 893.1 870.0 895.5 869.0C897.9 868.0 900.9 866.1 902.0 865.5" fill="none" stroke="#48484a" stroke-width="3.8" stroke-linecap="round" stroke-linejoin="round"/>
</g>
</defs>
<clipPath id="c3"><rect x="710" y="608" width="348" height="277.3"/></clipPath>
<rect x="710" y="608" width="348" height="283" fill="#fcfcfc"/>
<g clip-path="url(#c3)"><use href="#face"/></g>
<rect x="712" y="885" width="309" height="1.2" fill="#dcdcdc"/>
<clipPath id="c2"><rect x="368" y="608" width="330" height="267.3"/></clipPath>
<rect x="368" y="608" width="330" height="272" fill="#fcfcfc"/>
<g clip-path="url(#c2)"><use href="#face" transform="translate(-343.24 -10) scale(0.997 1)"/></g>
<rect x="368" y="875" width="307" height="1.2" fill="#dcdcdc"/>
<clipPath id="c1"><rect x="2" y="608" width="366" height="267.3"/></clipPath>
<rect x="2" y="608" width="366" height="272" fill="#fcfcfc"/>
<g clip-path="url(#c1)"><use href="#face" transform="translate(-699.98 -10) scale(1.0095 1)"/></g>
<rect x="20" y="875" width="318" height="1.2" fill="#dcdcdc"/>
<line x1="84.8" y1="721.9" x2="177.8" y2="721.9" stroke="#ff8a43" stroke-width="1.6" opacity="1"/><circle cx="84.8" cy="721.9" r="4.4" fill="#ff8a43"/><circle cx="177.8" cy="721.9" r="4.4" fill="#ff8a43"/>
<line x1="433.7" y1="722.3" x2="523.5" y2="722.3" stroke="#e0622e" stroke-width="1.6" opacity="0.75"/><circle cx="433.7" cy="722.3" r="4.4" fill="#e8672f"/><circle cx="523.5" cy="722.3" r="4.4" fill="#e8672f"/>
<line x1="779.2" y1="732.4" x2="869.2" y2="732.4" stroke="#e0622e" stroke-width="1.6" opacity="0.75"/><circle cx="779.2" cy="732.4" r="4.4" fill="#e8672f"/><circle cx="869.2" cy="732.4" r="4.4" fill="#e8672f"/>
<text x="118.0" y="702.9" font-size="25.2" fill="#e2713f" stroke="#e2713f" stroke-width="0.8" stroke-linejoin="round" textLength="14.4" lengthAdjust="spacingAndGlyphs">S</text>
<text x="462.9" y="702.9" font-size="25.2" fill="#e2713f" stroke="#e2713f" stroke-width="0.7" stroke-linejoin="round" textLength="19.8" lengthAdjust="spacingAndGlyphs">M</text>
<rect x="799" y="663" width="41" height="50" rx="9" fill="#ffffff"/>
<text x="812.0" y="700.2" font-size="30.5" fill="#ff8a43" stroke="#ff8a43" stroke-width="0.5" textLength="16.4" lengthAdjust="spacingAndGlyphs">L</text>
<g opacity="0.77" transform="translate(178.00 904.80) scale(-0.5712 -0.5752) translate(-200.7 -241.5)"><use href="#maincard"/></g>
<g opacity="0.77" transform="translate(528.80 883.30) scale(-0.5197 -0.5196) translate(-200.7 -241.5)"><use href="#maincard"/></g>
<g opacity="0.77" transform="translate(871.90 858.90) scale(-0.3597 -0.3563) translate(-200.7 -241.5)"><use href="#maincard"/></g>
</svg>
</body>
</html>
